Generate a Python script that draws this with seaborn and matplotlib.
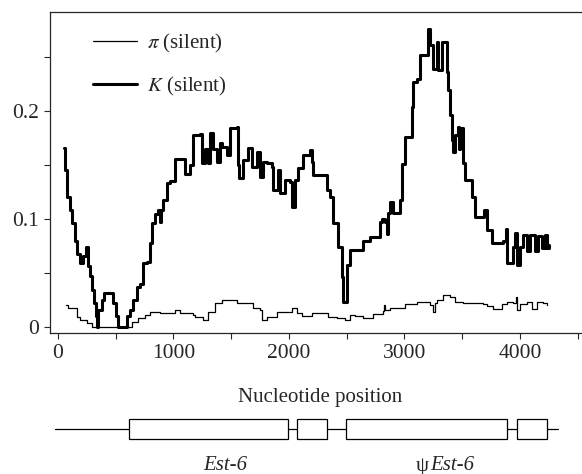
import numpy as np
import pandas as pd
import seaborn as sns
import matplotlib.pyplot as plt
from matplotlib.ticker import MultipleLocator, FuncFormatter

# K (silent) sliding window
k_pos = [52, 58, 78, 104, 121, 147, 165, 190, 215, 242, 260, 277, 294, 310, 330, 338,
         346, 381, 400, 468, 476, 500, 519, 580, 597, 623, 649, 684, 710, 736, 771, 797,
         814, 840, 870, 883, 890, 909, 944, 970, 1013, 1074, 1100, 1143, 1169, 1229, 1247,
         1270, 1299, 1316, 1340, 1377, 1400, 1420, 1463, 1489, 1550, 1558, 1567, 1602, 1645,
         1680, 1723, 1749, 1775, 1810, 1853, 1861, 1905, 1922, 1965, 2009, 2026, 2052, 2078,
         2121, 2182, 2199, 2208, 2312, 2329, 2355, 2381, 2424, 2459, 2468, 2485, 2502, 2528,
         2632, 2641, 2701, 2771, 2788, 2805, 2830, 2848, 2857, 2874, 2900, 2944, 2961, 2978,
         3004, 3048, 3065, 3074, 3108, 3134, 3195, 3203, 3221, 3247, 3281, 3290, 3325, 3359,
         3368, 3377, 3394, 3411, 3420, 3437, 3463, 3470, 3481, 3506, 3524, 3584, 3610, 3671,
         3688, 3714, 3758, 3844, 3853, 3879, 3887, 3931, 3939, 3957, 3974, 4000, 4026, 4061,
         4087, 4130, 4156, 4190, 4216, 4234, 4251]
k_val = [0.166, 0.145, 0.12, 0.108, 0.096, 0.08, 0.068, 0.059, 0.066, 0.074, 0.056, 0.047,
         0.034, 0.022, 0.01, 0.0, 0.016, 0.025, 0.031, 0.031, 0.022, 0.01, 0.0, 0.0, 0.01,
         0.016, 0.025, 0.037, 0.04, 0.059, 0.06, 0.078, 0.096, 0.105, 0.108, 0.097, 0.108,
         0.118, 0.133, 0.135, 0.156, 0.156, 0.142, 0.15, 0.178, 0.179, 0.152, 0.165, 0.152,
         0.18, 0.165, 0.153, 0.17, 0.167, 0.159, 0.184, 0.185, 0.15, 0.138, 0.155, 0.166,
         0.148, 0.162, 0.139, 0.153, 0.152, 0.148, 0.127, 0.145, 0.124, 0.136, 0.134, 0.111,
         0.136, 0.147, 0.159, 0.164, 0.153, 0.141, 0.141, 0.127, 0.12, 0.096, 0.074, 0.046,
         0.023, 0.023, 0.057, 0.071, 0.071, 0.08, 0.083, 0.083, 0.097, 0.1, 0.097, 0.086,
         0.106, 0.116, 0.106, 0.106, 0.118, 0.151, 0.176, 0.176, 0.204, 0.227, 0.23, 0.252,
         0.252, 0.276, 0.261, 0.239, 0.264, 0.238, 0.264, 0.264, 0.236, 0.219, 0.196, 0.173,
         0.162, 0.178, 0.185, 0.165, 0.184, 0.152, 0.136, 0.12, 0.102, 0.102, 0.108, 0.09,
         0.078, 0.078, 0.08, 0.091, 0.059, 0.059, 0.074, 0.087, 0.057, 0.074, 0.085, 0.07,
         0.085, 0.07, 0.084, 0.073, 0.085, 0.073, 0.076]

# pi (silent)
pi_pos = [69, 87, 160, 165, 190, 251, 294, 597, 641, 693, 753, 797, 883, 1013, 1056, 1143,
          1169, 1186, 1255, 1299, 1359, 1420, 1550, 1662, 1688, 1749, 1766, 1810, 1896, 2026,
          2069, 2113, 2199, 2312, 2338, 2416, 2485, 2528, 2571, 2641, 2727, 2814, 2820, 2830,
          2874, 2978, 3004, 3108, 3221, 3247, 3260, 3281, 3333, 3394, 3437, 3506, 3680, 3714,
          3766, 3844, 3887, 3939, 3965, 3974, 4000, 4061, 4104, 4147, 4199, 4234]
pi_val = [0.02, 0.018, 0.018, 0.009, 0.006, 0.004, 0.0, 0.0, 0.005, 0.008, 0.011, 0.014,
          0.013, 0.016, 0.013, 0.013, 0.011, 0.0096, 0.006, 0.014, 0.022, 0.025, 0.022, 0.022,
          0.018, 0.016, 0.006, 0.009, 0.014, 0.018, 0.013, 0.01, 0.013, 0.013, 0.009, 0.008,
          0.006, 0.011, 0.01, 0.008, 0.012, 0.015, 0.02, 0.016, 0.018, 0.018, 0.021, 0.023,
          0.02, 0.014, 0.022, 0.025, 0.03, 0.028, 0.023, 0.022, 0.021, 0.019, 0.017, 0.021,
          0.023, 0.022, 0.028, 0.016, 0.021, 0.023, 0.017, 0.023, 0.022, 0.02]

# gene structure (exons as boxes)
gene_span = [-26, 4329]
exon_start = [615, 2069, 2494, 3974]
exon_end = [1991, 2329, 3887, 4234]
gene_names = ['Est-6', 'Est-6']
gene_label_pos = [1446, 3225]

sns.set_style('ticks')
plt.rcParams['font.family'] = ['Liberation Serif', 'DejaVu Serif']
plt.rcParams['mathtext.fontset'] = 'stix'

fig = plt.figure(figsize=(5.82, 4.74), dpi=100)
W, H = 582, 474
ax = fig.add_axes([50 / W, (H - 333) / H, 540 / W, 321 / H])

k_df = pd.DataFrame({'pos': k_pos, 'val': k_val})
pi_df = pd.DataFrame({'pos': pi_pos, 'val': pi_val})
sns.lineplot(data=pi_df, x='pos', y='val', ax=ax, color='black', lw=0.9,
             drawstyle='steps-post', estimator=None, label=r'$\pi$ (silent)')
sns.lineplot(data=k_df, x='pos', y='val', ax=ax, color='black', lw=2.2,
             drawstyle='steps-post', estimator=None, label=r'$K$ (silent)')

ax.set_xlim(-69, 4606)
ax.set_ylim(-0.0056, 0.2917)
ax.xaxis.set_major_locator(MultipleLocator(500))
ax.yaxis.set_major_locator(MultipleLocator(0.05))
ax.xaxis.set_major_formatter(FuncFormatter(lambda v, p: f'{int(v)}' if v % 1000 == 0 else ''))
ax.yaxis.set_major_formatter(FuncFormatter(
    lambda v, p: ('0' if abs(v) < 1e-9 else f'{v:.1f}') if abs(v * 10 - round(v * 10)) < 1e-6 else ''))
ax.tick_params(direction='out', length=4, width=0.8, labelsize=15.5, pad=4)
ax.set_xlabel('Nucleotide position', fontsize=15, labelpad=18)
ax.set_ylabel('')
for s in ax.spines.values():
    s.set_linewidth(0.9)

leg = ax.legend(loc='upper left', bbox_to_anchor=(93 / W, (H - 32) / H),
                bbox_transform=fig.transFigure, frameon=False, fontsize=15,
                handlelength=2.1, handletextpad=0.5, labelspacing=0.95,
                borderpad=0, borderaxespad=0)

# gene diagram
ax2 = fig.add_axes([50 / W, 0, 540 / W, 74 / H])
ax2.set_xlim(ax.get_xlim())
ax2.set_ylim(-2.25, 1.45)
ax2.plot(gene_span, [0, 0], color='black', lw=0.9, zorder=1)
ax2.barh([0] * len(exon_start), np.array(exon_end) - np.array(exon_start), left=exon_start,
         height=1, color='white', edgecolor='black', lw=0.9, zorder=2)
ax2.text(gene_label_pos[0], -1.85, gene_names[0], ha='center', va='center',
         fontsize=15, style='italic')
ax2.text(gene_label_pos[1] - 13, -1.85, 'ψ', ha='right', va='center', fontsize=15)
ax2.text(gene_label_pos[1], -1.85, gene_names[1], ha='left', va='center',
         fontsize=15, style='italic')
ax2.axis('off')

fig.savefig('out.png', dpi=100)
